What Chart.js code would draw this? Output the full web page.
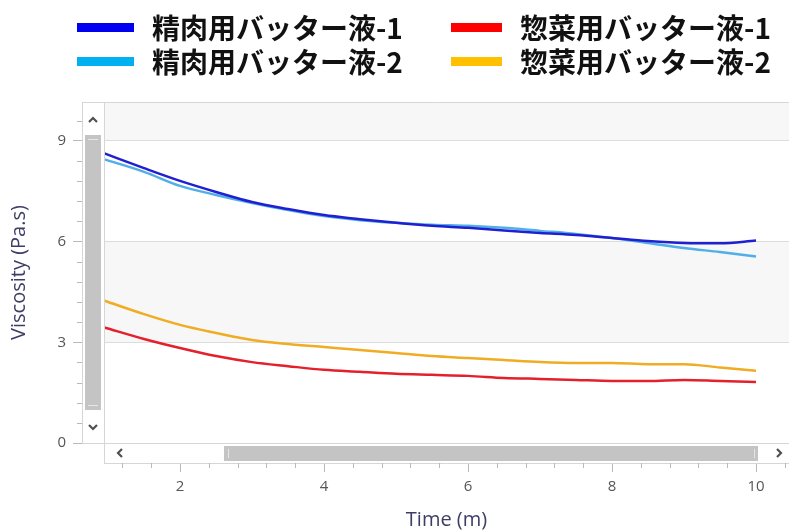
<!DOCTYPE html>
<html>
<head>
<meta charset="utf-8">
<script src="https://cdn.jsdelivr.net/npm/chart.js@4.4.0/dist/chart.umd.min.js"></script>
<style>
body { margin: 0; background: #fff; }
#wrap { position: relative; width: 789px; height: 532px; }
#legend { position: absolute; left: 77px; top: 10px; display: grid; grid-template-columns: 374px 320px;
  font-family: "Noto Sans CJK JP"; font-weight: bold; font-size: 28px; color: #111; }
.item { display: flex; align-items: center; height: 34px; white-space: nowrap; }
.sw { width: 57px; height: 9px; margin-right: 18px; }
</style>
</head>
<body>
<div id="wrap">
  <canvas id="viscChart" width="789" height="532"></canvas>
  <div id="legend"></div>
</div>
<script>
// datos
const times = [0.95, 1.5, 2, 2.5, 3, 3.5, 4, 4.5, 5, 5.5, 6, 6.5, 7, 7.5, 8, 8.5, 9, 9.5, 10];
const seiniku1 = [8.63, 8.19, 7.81, 7.48, 7.18, 6.97, 6.79, 6.67, 6.56, 6.47, 6.41, 6.33, 6.26, 6.20, 6.11, 6.02, 5.96, 5.95, 6.03];
const seiniku2 = [8.45, 8.08, 7.66, 7.39, 7.15, 6.94, 6.76, 6.64, 6.56, 6.50, 6.47, 6.41, 6.32, 6.23, 6.11, 5.96, 5.81, 5.69, 5.56];
const souzai1 = [3.44, 3.10, 2.83, 2.59, 2.41, 2.29, 2.18, 2.12, 2.06, 2.03, 2.00, 1.94, 1.91, 1.88, 1.85, 1.85, 1.88, 1.85, 1.82];
const souzai2 = [4.24, 3.84, 3.52, 3.28, 3.07, 2.95, 2.86, 2.77, 2.68, 2.59, 2.53, 2.47, 2.41, 2.38, 2.38, 2.35, 2.35, 2.25, 2.15];
const seriesNames = ['精肉用バッター液-1', '惣菜用バッター液-1', '精肉用バッター液-2', '惣菜用バッター液-2'];
const seriesValues = [seiniku1, souzai1, seiniku2, souzai2];
const lineColors = ['#2020d0', '#e3202c', '#50aee8', '#f0ac22'];
const legendColors = ['#0000f0', '#ff0000', '#00b0f0', '#ffc000'];
const xTicks = [2, 4, 6, 8, 10];
const yTicks = [0, 3, 6, 9];

const tickFont = { family: 'Open Sans', size: 15 };
const titleFont = { family: 'Open Sans', size: 20 };
const FRAME = '#d6d6d6';

// bandas, barras de scroll y ticks menores
const scrollFrame = {
    id: 'scrollFrame',
    beforeDraw(chart) {
        const { ctx, chartArea: a, scales: { y } } = chart;
        const edges = yTicks.concat([y.max]);
        ctx.save();
        ctx.fillStyle = '#f7f7f7';
        for (let i = 1; i < edges.length - 1; i += 2) {
            const top = y.getPixelForValue(edges[i + 1]);
            const bot = y.getPixelForValue(edges[i]);
            ctx.fillRect(a.left, top, a.right - a.left, bot - top);
        }
        ctx.restore();
    },
    afterDraw(chart) {
        const { ctx, chartArea: a, scales: { x, y } } = chart;
        const colL = a.left - 22, rowB = a.bottom + 20;
        ctx.save();
        // fondo de las barras
        ctx.fillStyle = '#fff';
        ctx.fillRect(colL + 1, a.top + 1, 21, a.bottom - a.top - 1);
        ctx.fillRect(a.left + 1, a.bottom + 1, a.right - a.left, 19);
        // marco
        ctx.strokeStyle = FRAME;
        ctx.lineWidth = 1;
        ctx.beginPath();
        ctx.moveTo(colL + 0.5, a.top + 0.5); ctx.lineTo(a.right, a.top + 0.5);
        ctx.moveTo(colL + 0.5, a.top); ctx.lineTo(colL + 0.5, a.bottom);
        ctx.moveTo(a.left + 0.5, a.top); ctx.lineTo(a.left + 0.5, rowB + 0.5);
        ctx.moveTo(a.left, rowB + 0.5); ctx.lineTo(a.right, rowB + 0.5);
        ctx.moveTo(colL, a.bottom + 0.5); ctx.lineTo(a.right, a.bottom + 0.5);
        ctx.stroke();
        // thumbs
        ctx.fillStyle = '#c4c4c4';
        ctx.fillRect(colL + 3, 135, 16, 275);
        ctx.fillRect(224, a.bottom + 3, 534, 15);
        ctx.strokeStyle = '#e6e6e6';
        ctx.beginPath();
        ctx.moveTo(colL + 6, 139.5); ctx.lineTo(colL + 16, 139.5);
        ctx.moveTo(colL + 6, 405.5); ctx.lineTo(colL + 16, 405.5);
        ctx.moveTo(228.5, a.bottom + 6); ctx.lineTo(228.5, a.bottom + 15);
        ctx.moveTo(754.5, a.bottom + 6); ctx.lineTo(754.5, a.bottom + 15);
        ctx.stroke();
        // flechas
        const cx = colL + 11, cy = a.bottom + 10;
        ctx.strokeStyle = '#505050';
        ctx.lineWidth = 2.2;
        ctx.beginPath();
        ctx.moveTo(cx - 4, 122); ctx.lineTo(cx, 118); ctx.lineTo(cx + 4, 122);
        ctx.moveTo(cx - 4, 425); ctx.lineTo(cx, 429); ctx.lineTo(cx + 4, 425);
        ctx.moveTo(122, cy - 4); ctx.lineTo(118, cy); ctx.lineTo(122, cy + 4);
        ctx.moveTo(777, cy - 4); ctx.lineTo(781, cy); ctx.lineTo(777, cy + 4);
        ctx.stroke();
        // ticks menores
        ctx.strokeStyle = '#b9b9b9';
        ctx.lineWidth = 1;
        ctx.beginPath();
        for (let i = 0; i < xTicks.length; i++) {
            for (let k = -4; k < 5; k++) {
                const v = xTicks[i] + k * 0.4;
                if (k === 0 || v < x.min || v > x.max) continue;
                const px = Math.round(x.getPixelForValue(v)) + 0.5;
                ctx.moveTo(px, rowB); ctx.lineTo(px, rowB + 5);
            }
        }
        for (let i = 0; i < yTicks.length; i++) {
            for (let k = 1; k < 5; k++) {
                const v = yTicks[i] + k * 0.6;
                if (v > y.max) continue;
                const py = Math.round(y.getPixelForValue(v)) + 0.5;
                ctx.moveTo(colL - 5, py); ctx.lineTo(colL, py);
            }
        }
        ctx.stroke();
        ctx.restore();
    }
};

document.addEventListener("DOMContentLoaded", function () {
    const ctx = document.getElementById('viscChart').getContext('2d');
    const datasets = seriesNames.map((name, i) => ({
        label: name,
        data: times.map((t, j) => ({ x: t, y: seriesValues[i][j] })),
        borderColor: lineColors[i],
        borderWidth: 2.5,
        pointRadius: 0,
        fill: false,
        cubicInterpolationMode: 'monotone'
    }));

    const chart = new Chart(ctx, {
        type: 'line',
        data: { datasets: datasets },
        plugins: [scrollFrame],
        options: {
            responsive: false,
            animation: false,
            layout: { padding: { top: 102, left: 0, right: 0, bottom: 0 } },
            plugins: { legend: { display: false }, tooltip: { enabled: false } },
            scales: {
                x: {
                    type: 'linear', min: 0.944, max: 10.458,
                    afterBuildTicks: s => { s.ticks = xTicks.map(v => ({ value: v })); },
                    afterFit: s => { s.height = 89; },
                    grid: { drawOnChartArea: false, tickLength: 29, tickColor: '#b9b9b9' },
                    border: { color: FRAME },
                    ticks: { padding: 6, color: '#555', font: tickFont, maxRotation: 0, autoSkip: false },
                    title: { display: true, text: 'Time (m)', color: '#3d3d66', font: titleFont, padding: { top: 0, bottom: 0 } }
                },
                y: {
                    min: 0, max: 10.16,
                    afterBuildTicks: s => { s.ticks = yTicks.map(v => ({ value: v })); },
                    afterFit: s => { s.width = 104; },
                    grid: { color: '#dcdcdc', tickLength: 31, tickColor: '#b9b9b9' },
                    border: { color: FRAME },
                    ticks: { padding: 7, color: '#555', font: tickFont },
                    title: { display: true, text: 'Viscosity (Pa.s)', color: '#3d3d66', font: titleFont, padding: { top: 7, bottom: 0 } }
                }
            }
        }
    });

    // leyenda html
    const legend = document.getElementById('legend');
    chart.data.datasets.forEach((ds, i) => {
        const item = document.createElement('div');
        item.className = 'item';
        item.innerHTML = '<span class="sw" style="background:' + legendColors[i] + '"></span><span>' + ds.label + '</span>';
        legend.appendChild(item);
    });
});
</script>
</body>
</html>
